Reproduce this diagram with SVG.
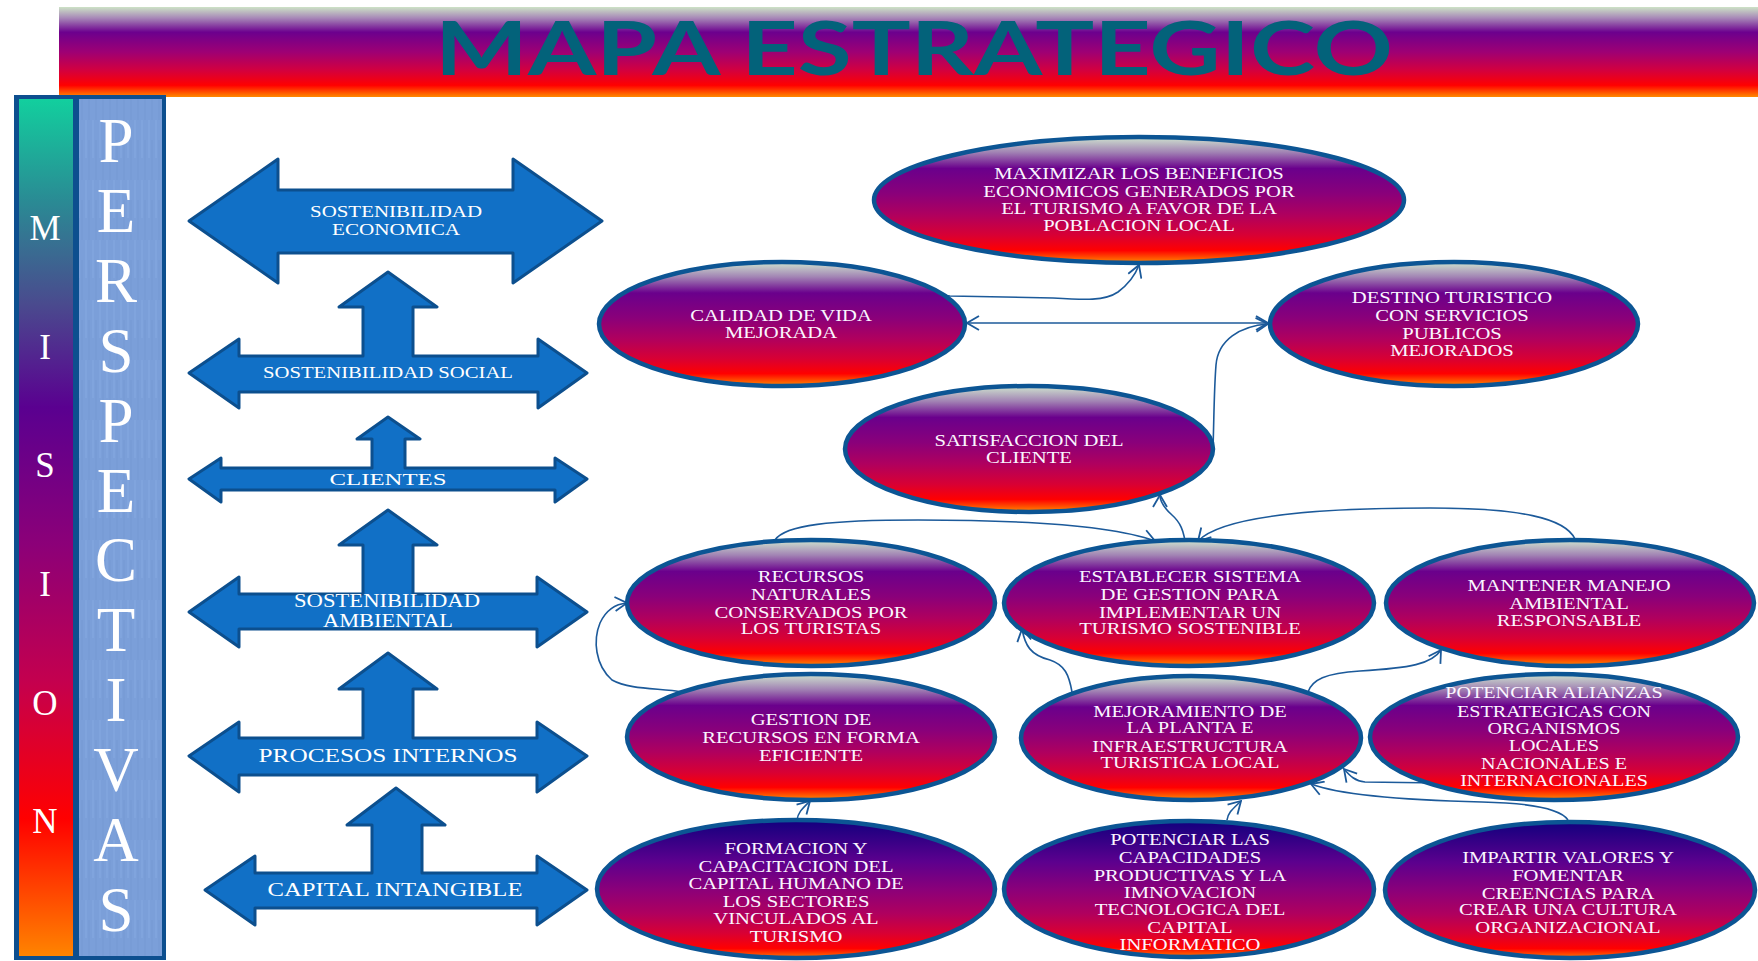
<svg xmlns="http://www.w3.org/2000/svg" width="1758" height="961" viewBox="0 0 1758 961">
  <style>
    .arrow { fill: #1170c6; stroke: #0c4f8e; stroke-width: 3; stroke-linejoin: round; }
    .alabel { font-family: "Liberation Serif", "Times New Roman", serif; fill: #ffffff; text-anchor: middle; }
    .node { stroke: #0c5594; stroke-width: 4.5; }
    .ntext { font-family: "Liberation Serif", "Times New Roman", serif; font-size: 16.5px; fill: #fbf6ff; text-anchor: middle; }
    .link { fill: none; stroke: #1c5a9a; stroke-width: 1.6; }
    .col-letter { font-family: "Liberation Serif", "Times New Roman", serif; fill: #ffffff; text-anchor: middle; }
  </style>
  <defs>
    <linearGradient id="gBanner" x1="0" y1="0" x2="0" y2="1">
      <stop offset="0" stop-color="#cde2c6"/>
      <stop offset="0.12" stop-color="#a88ab8"/>
      <stop offset="0.28" stop-color="#6c008e"/>
      <stop offset="0.5" stop-color="#9e0074"/>
      <stop offset="0.7" stop-color="#d20040"/>
      <stop offset="0.87" stop-color="#ff0000"/>
      <stop offset="1" stop-color="#ff8a00"/>
    </linearGradient>
    <linearGradient id="gMision" x1="0" y1="0" x2="0" y2="1">
      <stop offset="0" stop-color="#12cf9e"/>
      <stop offset="0.12" stop-color="#2a8a94"/>
      <stop offset="0.24" stop-color="#4a4a8e"/>
      <stop offset="0.36" stop-color="#5a0090"/>
      <stop offset="0.52" stop-color="#8c0078"/>
      <stop offset="0.68" stop-color="#c4004e"/>
      <stop offset="0.84" stop-color="#ff0000"/>
      <stop offset="1" stop-color="#ff8400"/>
    </linearGradient>
    <linearGradient id="gNode" x1="0" y1="0" x2="0" y2="1">
      <stop offset="0" stop-color="#cfe4cf"/>
      <stop offset="0.12" stop-color="#a284b4"/>
      <stop offset="0.25" stop-color="#6a008c"/>
      <stop offset="0.45" stop-color="#8a007a"/>
      <stop offset="0.62" stop-color="#b0005e"/>
      <stop offset="0.78" stop-color="#d80034"/>
      <stop offset="0.9" stop-color="#ff0000"/>
      <stop offset="1" stop-color="#ff8c00"/>
    </linearGradient>
    <linearGradient id="gNodeDark" x1="0" y1="0" x2="0" y2="1">
      <stop offset="0" stop-color="#12007e"/>
      <stop offset="0.3" stop-color="#5c008e"/>
      <stop offset="0.5" stop-color="#8a007a"/>
      <stop offset="0.68" stop-color="#b0005e"/>
      <stop offset="0.82" stop-color="#d80034"/>
      <stop offset="0.93" stop-color="#ff0000"/>
      <stop offset="1" stop-color="#ff7a00"/>
    </linearGradient>
    <pattern id="pCloth" width="7" height="60" patternUnits="userSpaceOnUse">
      <rect width="7" height="60" fill="#7b9fd9"/>
      <line x1="2" y1="0" x2="2" y2="38" stroke="#90b2e6" stroke-width="1" opacity="0.5"/>
      <line x1="5" y1="20" x2="5" y2="60" stroke="#6c90cc" stroke-width="1" opacity="0.45"/>
    </pattern>
    <marker id="head" viewBox="0 0 14 16" refX="13" refY="8" markerWidth="14" markerHeight="16" markerUnits="userSpaceOnUse" orient="auto-start-reverse">
      <path d="M1,1 L13,8 L1,15" fill="none" stroke="#1c5a9a" stroke-width="1.8"/>
    </marker>
  </defs>

  <rect width="1758" height="961" fill="#ffffff"/>

  <!-- title banner -->
  <g id="banner">
    <rect x="59" y="7" width="1699" height="90" fill="url(#gBanner)"/>
    <text x="914" y="75" font-family="Lato, 'Open Sans', sans-serif" font-weight="700" font-size="74" fill="#03627a" text-anchor="middle" textLength="958" lengthAdjust="spacingAndGlyphs">MAPA ESTRATEGICO</text>
  </g>

  <!-- left column: mission and perspectives -->
  <g id="side-column">
    <rect x="14" y="95" width="152" height="865" fill="#0d4f8f"/>
    <rect x="19" y="99" width="54" height="857" fill="url(#gMision)"/>
    <rect x="79" y="99" width="83" height="857" fill="url(#pCloth)"/>
    <g class="col-letter" font-size="35">
      <text x="45" y="240">M</text>
      <text x="45" y="359">I</text>
      <text x="45" y="477">S</text>
      <text x="45" y="596">I</text>
      <text x="45" y="715">O</text>
      <text x="45" y="833">N</text>
    </g>
    <g class="col-letter" font-size="63">
      <text x="116" y="162">P</text>
      <text x="116" y="232">E</text>
      <text x="116" y="302">R</text>
      <text x="116" y="372">S</text>
      <text x="116" y="442">P</text>
      <text x="116" y="512">E</text>
      <text x="116" y="581">C</text>
      <text x="116" y="651">T</text>
      <text x="116" y="721">I</text>
      <text x="116" y="791">V</text>
      <text x="116" y="861">A</text>
      <text x="116" y="931">S</text>
    </g>
  </g>

  <!-- perspective arrows -->
  <g id="persp-economica">
    <polygon class="arrow" points="189,221 278,159 278,190 513,190 513,159 602,221 513,283 513,253 278,253 278,283"/>
    <text class="alabel" x="396" y="217" font-size="16.5" textLength="172" lengthAdjust="spacingAndGlyphs">SOSTENIBILIDAD</text>
    <text class="alabel" x="396" y="235" font-size="16.5" textLength="128" lengthAdjust="spacingAndGlyphs">ECONOMICA</text>
  </g>
  <g id="persp-social">
    <polygon class="arrow" points="189,373 239,339 239,356 363,356 363,307 339,307 388,272 437,307 413,307 413,356 538,356 538,339 587,373 538,408 538,392 239,392 239,408"/>
    <text class="alabel" x="388" y="378" font-size="17" textLength="250" lengthAdjust="spacingAndGlyphs">SOSTENIBILIDAD SOCIAL</text>
  </g>
  <g id="persp-clientes">
    <polygon class="arrow" points="189,479 221,458 221,468 372,468 372,439 357,439 388,417 420,439 405,439 405,468 555,468 555,458 587,479 555,502 555,490 221,490 221,502"/>
    <text class="alabel" x="388" y="485" font-size="17.5" textLength="117" lengthAdjust="spacingAndGlyphs">CLIENTES</text>
  </g>
  <g id="persp-ambiental">
    <polygon class="arrow" points="189,612 239,577 239,594 363,594 363,545 339,545 388,510 437,545 413,545 413,594 537,594 537,577 587,612 537,647 537,629 239,629 239,647"/>
    <text class="alabel" x="387" y="607" font-size="18" textLength="186" lengthAdjust="spacingAndGlyphs">SOSTENIBILIDAD</text>
    <text class="alabel" x="388" y="627" font-size="18" textLength="130" lengthAdjust="spacingAndGlyphs">AMBIENTAL</text>
  </g>
  <g id="persp-procesos">
    <polygon class="arrow" points="189,756 239,722 239,738 363,738 363,689 339,689 388,653 437,689 413,689 413,738 537,738 537,722 587,756 537,792 537,775 239,775 239,792"/>
    <text class="alabel" x="388" y="762" font-size="18.5" textLength="259" lengthAdjust="spacingAndGlyphs">PROCESOS INTERNOS</text>
  </g>
  <g id="persp-capital">
    <polygon class="arrow" points="205,890 255,856 255,873 372,873 372,825 347,825 396,788 445,825 422,825 422,873 537,873 537,856 587,890 537,925 537,908 255,908 255,925"/>
    <text class="alabel" x="395" y="896" font-size="18.5" textLength="255" lengthAdjust="spacingAndGlyphs">CAPITAL INTANGIBLE</text>
  </g>

  <!-- connectors -->
  <g id="connectors">
    <path class="link" d="M912,282 C925,292 935,295 950,296 L1053,298 C1085,300 1105,301 1118,292 C1130,283 1136,273 1139,265" marker-end="url(#head)"/>
    <path class="link" d="M967,323 L1268,323" stroke="#3d74b4" stroke-width="2" marker-start="url(#head)" marker-end="url(#head)"/>
    <path class="link" d="M1213,448 C1214,420 1214,390 1216,365 C1218,340 1240,326 1268,324" marker-end="url(#head)"/>
    <path class="link" d="M775,540 C785,525 830,520 918,520 C1040,520 1120,528 1155,541" marker-end="url(#head)"/>
    <path class="link" d="M1575,539 C1565,518 1520,508 1430,508 C1300,508 1220,518 1198,541" marker-end="url(#head)"/>
    <path class="link" d="M1186,548 C1184,530 1180,522 1172,515 C1163,507 1160,500 1160,495" marker-end="url(#head)"/>
    <path class="link" d="M1072,692 C1069,675 1065,665 1050,660 C1030,655 1025,645 1022,629" marker-end="url(#head)"/>
    <path class="link" d="M1308,692 C1312,680 1325,673 1360,671 C1410,668 1432,664 1441,650" marker-end="url(#head)"/>
    <path class="link" d="M682,692 C660,688 630,690 612,680 C595,665 593,640 600,623 C606,610 615,604 627,603" marker-end="url(#head)"/>
    <path class="link" d="M797,820 C798,812 803,808 810,801" marker-end="url(#head)"/>
    <path class="link" d="M1227,820 C1228,812 1234,808 1241,801" marker-end="url(#head)"/>
    <path class="link" d="M1568,820 C1560,808 1530,803 1482,802 C1400,800 1340,795 1311,784" marker-end="url(#head)"/>
    <path class="link" d="M1440,783 L1365,782 C1355,781 1350,776 1344,769" marker-end="url(#head)"/>
  </g>

  <!-- objectives -->
  <g id="n-maximizar">
    <ellipse class="node" cx="1139" cy="200" rx="265" ry="63" fill="url(#gNode)"/>
    <g class="ntext" transform="translate(1139,0) scale(1.25,1)">
      <text x="0" y="179">MAXIMIZAR LOS BENEFICIOS</text>
      <text x="0" y="197">ECONOMICOS GENERADOS POR</text>
      <text x="0" y="214">EL TURISMO A FAVOR DE LA</text>
      <text x="0" y="231">POBLACION LOCAL</text>
    </g>
  </g>
  <g id="n-calidad">
    <ellipse class="node" cx="782" cy="324" rx="183" ry="62" fill="url(#gNode)"/>
    <g class="ntext" transform="translate(781,0) scale(1.25,1)">
      <text x="0" y="321">CALIDAD DE VIDA</text>
      <text x="0" y="338">MEJORADA</text>
    </g>
  </g>
  <g id="n-destino">
    <ellipse class="node" cx="1454" cy="324" rx="184" ry="62" fill="url(#gNode)"/>
    <g class="ntext" transform="translate(1452,0) scale(1.25,1)">
      <text x="0" y="303">DESTINO TURISTICO</text>
      <text x="0" y="321">CON SERVICIOS</text>
      <text x="0" y="339">PUBLICOS</text>
      <text x="0" y="356">MEJORADOS</text>
    </g>
  </g>
  <g id="n-satisfaccion">
    <ellipse class="node" cx="1029" cy="449" rx="184" ry="63" fill="url(#gNode)"/>
    <g class="ntext" transform="translate(1029,0) scale(1.25,1)">
      <text x="0" y="446">SATISFACCION DEL</text>
      <text x="0" y="463">CLIENTE</text>
    </g>
  </g>
  <g id="n-recursos">
    <ellipse class="node" cx="811" cy="603" rx="184" ry="63" fill="url(#gNode)"/>
    <g class="ntext" transform="translate(811,0) scale(1.25,1)">
      <text x="0" y="582">RECURSOS</text>
      <text x="0" y="600">NATURALES</text>
      <text x="0" y="618">CONSERVADOS POR</text>
      <text x="0" y="634">LOS TURISTAS</text>
    </g>
  </g>
  <g id="n-establecer">
    <ellipse class="node" cx="1189" cy="603" rx="185" ry="63" fill="url(#gNode)"/>
    <g class="ntext" transform="translate(1190,0) scale(1.25,1)">
      <text x="0" y="582">ESTABLECER SISTEMA</text>
      <text x="0" y="600">DE GESTION PARA</text>
      <text x="0" y="618">IMPLEMENTAR UN</text>
      <text x="0" y="634">TURISMO SOSTENIBLE</text>
    </g>
  </g>
  <g id="n-mantener">
    <ellipse class="node" cx="1570" cy="603" rx="184" ry="63" fill="url(#gNode)"/>
    <g class="ntext" transform="translate(1569,0) scale(1.25,1)">
      <text x="0" y="591">MANTENER MANEJO</text>
      <text x="0" y="609">AMBIENTAL</text>
      <text x="0" y="626">RESPONSABLE</text>
    </g>
  </g>
  <g id="n-gestion">
    <ellipse class="node" cx="811" cy="737" rx="184" ry="63" fill="url(#gNode)"/>
    <g class="ntext" transform="translate(811,0) scale(1.25,1)">
      <text x="0" y="725">GESTION DE</text>
      <text x="0" y="743">RECURSOS EN FORMA</text>
      <text x="0" y="761">EFICIENTE</text>
    </g>
  </g>
  <g id="n-mejoramiento">
    <ellipse class="node" cx="1191" cy="738" rx="170" ry="62" fill="url(#gNode)"/>
    <g class="ntext" transform="translate(1190,0) scale(1.24,1)">
      <text x="0" y="717">MEJORAMIENTO DE</text>
      <text x="0" y="733">LA PLANTA E</text>
      <text x="0" y="752">INFRAESTRUCTURA</text>
      <text x="0" y="768">TURISTICA LOCAL</text>
    </g>
  </g>
  <g id="n-alianzas">
    <ellipse class="node" cx="1554" cy="737" rx="184" ry="63" fill="url(#gNode)"/>
    <g class="ntext" transform="translate(1554,0) scale(1.22,1)">
      <text x="0" y="698">POTENCIAR ALIANZAS</text>
      <text x="0" y="717">ESTRATEGICAS CON</text>
      <text x="0" y="734">ORGANISMOS</text>
      <text x="0" y="751">LOCALES</text>
      <text x="0" y="769">NACIONALES E</text>
      <text x="0" y="786">INTERNACIONALES</text>
    </g>
  </g>
  <g id="n-formacion">
    <ellipse class="node" cx="796" cy="889" rx="199" ry="69" fill="url(#gNodeDark)"/>
    <g class="ntext" transform="translate(796,0) scale(1.25,1)">
      <text x="0" y="854">FORMACION Y</text>
      <text x="0" y="872">CAPACITACION DEL</text>
      <text x="0" y="889">CAPITAL HUMANO DE</text>
      <text x="0" y="907">LOS SECTORES</text>
      <text x="0" y="924">VINCULADOS AL</text>
      <text x="0" y="942">TURISMO</text>
    </g>
  </g>
  <g id="n-capacidades">
    <ellipse class="node" cx="1189" cy="889" rx="185" ry="68" fill="url(#gNodeDark)"/>
    <g class="ntext" transform="translate(1190,0) scale(1.25,1)">
      <text x="0" y="845">POTENCIAR LAS</text>
      <text x="0" y="863">CAPACIDADES</text>
      <text x="0" y="881">PRODUCTIVAS Y LA</text>
      <text x="0" y="898">IMNOVACION</text>
      <text x="0" y="915">TECNOLOGICA DEL</text>
      <text x="0" y="933">CAPITAL</text>
      <text x="0" y="950">INFORMATICO</text>
    </g>
  </g>
  <g id="n-valores">
    <ellipse class="node" cx="1570" cy="890" rx="185" ry="68" fill="url(#gNodeDark)"/>
    <g class="ntext" transform="translate(1568,0) scale(1.25,1)">
      <text x="0" y="863">IMPARTIR VALORES Y</text>
      <text x="0" y="881">FOMENTAR</text>
      <text x="0" y="899">CREENCIAS PARA</text>
      <text x="0" y="915">CREAR UNA CULTURA</text>
      <text x="0" y="933">ORGANIZACIONAL</text>
    </g>
  </g>
</svg>
